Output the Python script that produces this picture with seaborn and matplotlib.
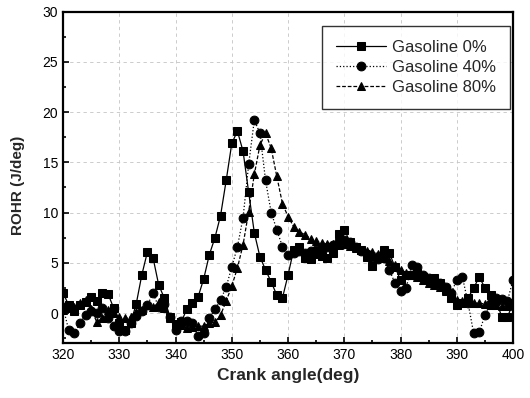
import numpy as np
import pandas as pd
import matplotlib
matplotlib.use("Agg")
import matplotlib.pyplot as plt
import seaborn as sns
from matplotlib.ticker import MultipleLocator

sns.set_style("ticks")
plt.rcParams['font.family'] = ['Liberation Sans', 'DejaVu Sans']

crank_angle = np.arange(320, 401, 1)

gasoline_0 = [2.0, 0.8, 0.2, 0.8, 1.1, 1.6, 1.2, 2.0, 1.9, 0.5,
              -1.0, -1.7, -1.0, 0.9, 3.8, 6.1, 5.5, 2.8, 1.5, -0.4,
              -1.1, -0.9, 0.4, 1.0, 1.6, 3.4, 5.8, 7.5, 9.7, 13.2,
              16.9, 18.1, 16.1, 12.0, 8.0, 5.6, 4.3, 3.1, 1.8, 1.5,
              3.8, 6.3, 6.6, 5.5, 5.4, 5.9, 5.7, 5.5, 6.0, 7.9,
              8.3, 7.1, 6.6, 6.3, 5.6, 4.7, 5.5, 6.3, 6.0, 4.6,
              3.3, 3.8, 3.8, 4.0, 3.6, 3.3, 3.5, 3.0, 2.3, 1.5,
              0.8, 1.0, 1.5, 2.5, 3.6, 2.5, 1.8, 1.3, -0.4, -0.4,
              1.0]

gasoline_40 = [0.6, -1.7, -2.0, -1.0, -0.2, 0.2, 0.0, 0.5, -0.5, -1.3,
               -1.8, -1.8, -1.0, -0.3, 0.2, 0.8, 2.0, 0.6, 0.9, -0.4,
               -1.7, -0.8, -0.8, -1.0, -2.3, -2.0, -0.5, 0.4, 1.3, 2.6,
               4.6, 6.6, 9.5, 14.8, 19.2, 17.9, 13.2, 10.0, 8.3, 6.6,
               5.8, 6.0, 6.2, 6.0, 6.2, 6.3, 6.4, 6.6, 6.8, 7.2,
               7.3, 7.1, 6.6, 6.2, 5.9, 5.6, 5.4, 5.5, 4.3, 3.0,
               2.2, 2.5, 4.8, 4.6, 3.8, 3.5, 3.3, 3.0, 2.6, 2.0,
               3.3, 3.6, 1.0, -2.0, -1.9, -0.2, 1.0, 1.5, 1.4, 1.2,
               3.3]

gasoline_80 = [0.3, 0.5, 0.6, 1.0, 1.3, 0.4, -0.9, -0.5, 0.3, 0.0,
               -0.4, -0.5, -0.4, 0.1, 0.3, 0.8, 0.6, 1.1, 0.5, -0.5,
               -1.2, -1.2, -1.5, -1.4, -1.3, -1.3, -1.0, -0.9, -0.2, 1.2,
               2.7, 4.5, 6.8, 10.1, 13.8, 16.7, 17.9, 16.4, 13.6, 10.9,
               9.6, 8.6, 8.1, 7.8, 7.4, 7.2, 7.0, 6.9, 6.9, 6.8,
               6.9, 6.7, 6.5, 6.3, 6.2, 6.1, 5.9, 5.5, 5.2, 4.8,
               4.3, 4.0, 3.8, 3.6, 3.3, 3.0, 2.8, 2.6, 2.2, 1.8,
               1.3, 1.2, 1.1, 1.0, 1.0, 0.9, 0.8, 0.8, 0.7, 0.7,
               0.8]

series_names = ["Gasoline 0%", "Gasoline 40%", "Gasoline 80%"]

fig = plt.figure(figsize=(5.30, 3.98), dpi=100)
ax = fig.add_axes([0.119, 0.1375, 0.849, 0.8335])

styles = [("s", "-"), ("o", ":"), ("^", (0, (3, 1.5)))]
for name, vals, (mk, ls) in zip(series_names, [gasoline_0, gasoline_40, gasoline_80], styles):
    df = pd.DataFrame({"angle": crank_angle, "rohr": vals})
    sns.lineplot(data=df, x="angle", y="rohr", ax=ax, color="black",
                 marker=mk, markersize=6.3, markeredgecolor="black",
                 linewidth=0.9, linestyle=ls, label=name, clip_on=True)

ax.set_xlim(320, 400)
ax.set_ylim(-3, 30)
ax.xaxis.set_major_locator(MultipleLocator(10))
ax.xaxis.set_minor_locator(MultipleLocator(5))
ax.yaxis.set_major_locator(MultipleLocator(5))
ax.yaxis.set_minor_locator(MultipleLocator(2.5))
ax.tick_params(which="both", direction="in", width=1.2, labelsize=10, colors="black")
ax.tick_params(which="major", length=4)
ax.tick_params(which="minor", length=2.5)
for s in ax.spines.values():
    s.set_linewidth(1.6)
    s.set_color("black")

ax.grid(True, which="major", color="#c4c4c4", linestyle=(0, (4, 4)), linewidth=0.6)

ax.set_xlabel("Crank angle(deg)", fontsize=12.5, fontweight="bold", labelpad=4)
ax.set_ylabel("ROHR (J/deg)", fontsize=11, fontweight="bold")
ax.yaxis.set_label_coords(-0.085, 0.475)

leg = ax.legend(loc="upper right", bbox_to_anchor=(0.993, 0.957), frameon=True,
                fancybox=False, edgecolor="black", fontsize=12, handlelength=3.0,
                borderpad=0.85, labelspacing=0.3, handletextpad=0.35, borderaxespad=0.0)
leg.get_frame().set_linewidth(1.0)

fig.savefig("out.png", dpi=100)
